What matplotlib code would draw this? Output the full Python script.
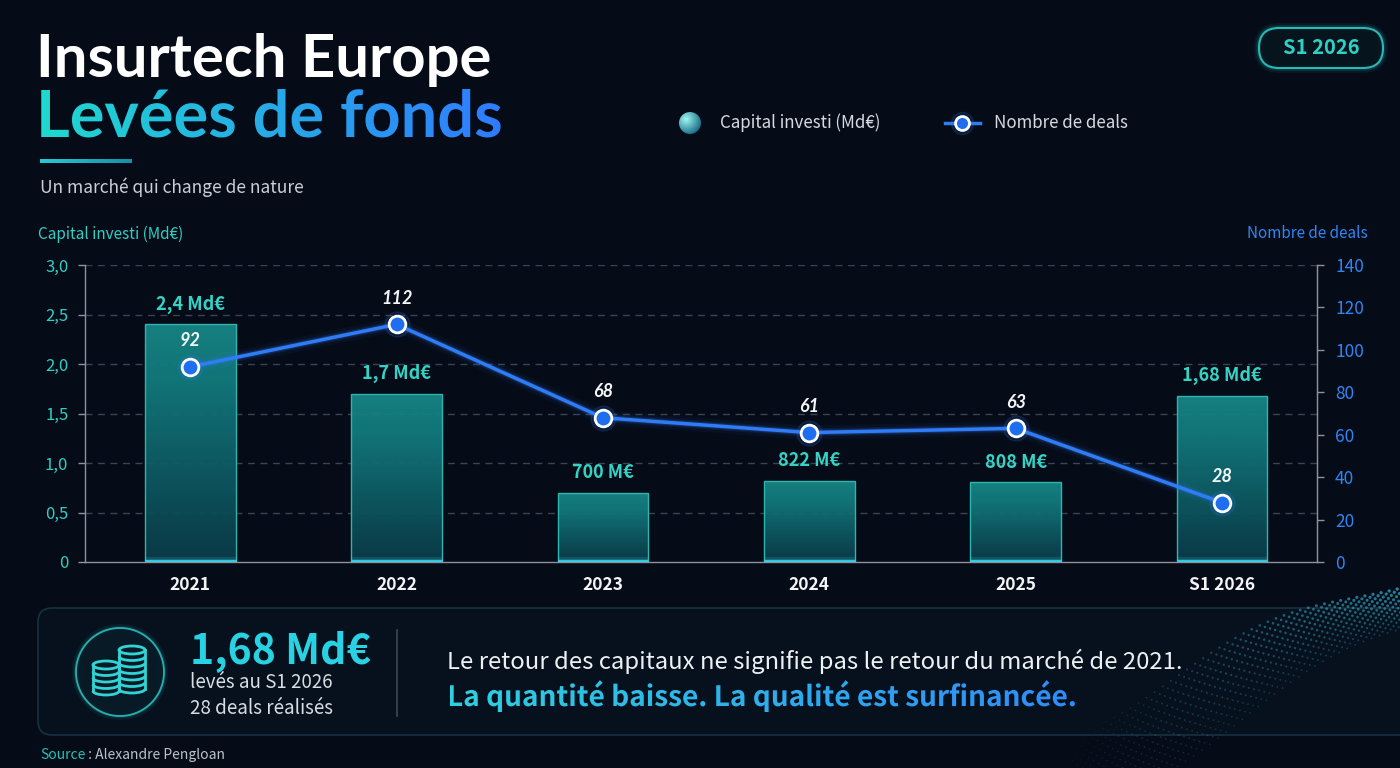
import numpy as np
import matplotlib
matplotlib.use('Agg')
import matplotlib.pyplot as plt
from matplotlib.patches import FancyBboxPatch, Circle, Ellipse, Arc, PathPatch
from matplotlib.textpath import TextPath
from matplotlib.font_manager import FontProperties
from matplotlib.colors import to_rgb
from matplotlib.transforms import Affine2D

plt.rcParams['font.family'] = ['Noto Sans CJK SC', 'DejaVu Sans']

# données
categories = ['2021', '2022', '2023', '2024', '2025', 'S1 2026']
capital = [2.4, 1.7, 0.70, 0.822, 0.808, 1.68]
capital_labels = ['2,4 Md€', '1,7 Md€', '700 M€', '822 M€', '808 M€', '1,68 Md€']
deals = [92, 112, 68, 61, 63, 28]
left_ticks = [0, 0.5, 1.0, 1.5, 2.0, 2.5, 3.0]
left_tick_labels = ['0', '0,5', '1,0', '1,5', '2,0', '2,5', '3,0']
right_ticks = [0, 20, 40, 60, 80, 100, 120, 140]

BG = '#050c18'
TEAL = '#2fcfc4'
BLUE = '#2f86f2'
LINE = '#2f7cf6'
W, H = 1400, 768

fig = plt.figure(figsize=(14, 7.68), dpi=100, facecolor=BG)

# calque de fond en coordonnées pixels (y vers le bas)
bg = fig.add_axes([0, 0, 1, 1], zorder=0)
bg.set_xlim(0, W)
bg.set_ylim(H, 0)
bg.axis('off')


def grad_colors(c0, c1, n=256):
    a = np.array(to_rgb(c0))
    b = np.array(to_rgb(c1))
    t = np.linspace(0, 1, n)[:, None]
    return a + (b - a) * t


def gradient_text(x, y, s, size, c0, c1, family='Noto Sans CJK SC', weight='bold'):
    """texte en dégradé horizontal, (x, y) = début de la ligne de base"""
    prop = FontProperties(family=family, weight=weight)
    tp = TextPath((0, 0), s, size=size, prop=prop)
    ext = tp.get_extents()
    tr = Affine2D().scale(1, -1).translate(x, y) + bg.transData
    patch = PathPatch(tp, transform=tr, facecolor='none', edgecolor='none')
    bg.add_patch(patch)
    img = grad_colors(c0, c1)[None, :, :]
    im = bg.imshow(img, extent=[x + ext.x0, x + ext.x1, y - ext.y0, y - ext.y1],
                   aspect='auto', interpolation='bicubic', zorder=3)
    im.set_clip_path(patch)
    return ext


# titre
bg.text(36, 77, 'Insurtech Europe', color='white', fontsize=43, fontweight='bold',
        family='Lato', va='baseline', ha='left')
gradient_text(36, 137, 'Levées de fonds', 65, '#1fd9cf', '#2f7cff', family='Lato')
bar_line = grad_colors('#27c9d6', '#1a8ea8', 64)[None, :, :]
bg.imshow(bar_line, extent=[40, 132, 163, 159], aspect='auto', zorder=2)
bg.text(40, 187, 'Un marché qui change de nature', color='#c9d0d8', fontsize=12.5,
        va='center', ha='left')

# légende
yy, xx = np.mgrid[-1:1:64j, -1:1:64j]
rr = np.sqrt((xx + 0.35) ** 2 + (yy + 0.35) ** 2)
sphere = grad_colors('#9ff6f2', '#0a5f7a', 64)[np.clip((rr / 1.6 * 63).astype(int), 0, 63)]
sp = Circle((690, 123), 11, transform=bg.transData, facecolor='none', edgecolor='none')
bg.add_patch(sp)
im = bg.imshow(sphere, extent=[679, 701, 134, 112], aspect='auto', zorder=3)
im.set_clip_path(sp)
bg.text(720, 123, 'Capital investi (Md€)', color='#d5dbe2', fontsize=12.2, va='center')
bg.plot([945, 980], [123, 123], color=LINE, lw=2.5, zorder=3)
bg.plot([962], [123], 'o', ms=10, mfc='#1f6ef0', mec='white', mew=2, zorder=4)
bg.plot([962], [123], 'o', ms=16, color=LINE, alpha=0.15, zorder=3)
bg.text(994, 123, 'Nombre de deals', color='#d5dbe2', fontsize=12.2, va='center')

# pastille S1 2026
for lw, a in [(7, 0.08), (4, 0.15), (1.5, 0.9)]:
    bg.add_patch(FancyBboxPatch((1259, 28), 124, 40,
                                boxstyle='round,pad=0,rounding_size=20',
                                facecolor='#07151f' if lw == 1.5 else 'none',
                                edgecolor='#2cc9c6', lw=lw, alpha=a, zorder=2))
bg.text(1321, 48, 'S1 2026', color=TEAL, fontsize=14.5, fontweight='bold',
        ha='center', va='center', zorder=3)

# titres des axes
bg.text(38, 234, 'Capital investi (Md€)', color=TEAL, fontsize=11, va='center', ha='left')
bg.text(1368, 234, 'Nombre de deals', color=BLUE, fontsize=11, va='center', ha='right')

# décor pointillé en bas à droite
uu, vv = np.meshgrid(np.linspace(0, 1, 48), np.linspace(0, 1, 18))
dx = 1040 + 380 * uu + 50 * vv
dy = 800 - 170 * uu ** 1.2 - 90 * vv + 20 * np.sin(uu * 6 + vv * 2)
ds = 0.5 + 5 * uu * (0.3 + vv)
da = np.clip(0.1 + 0.55 * uu * vv + 0.2 * uu, 0, 0.7)
cols = np.zeros((dx.size, 4))
cols[:, :3] = to_rgb('#35b8d6')
cols[:, 3] = da.ravel()
bg.scatter(dx.ravel(), dy.ravel(), s=ds.ravel(), c=cols, lw=0, zorder=1.8)

# panneau du bas
bg.add_patch(FancyBboxPatch((38, 608), 1400, 127, boxstyle='round,pad=0,rounding_size=14',
                            facecolor='#07121e', edgecolor='#1c3646', lw=1.2, alpha=0.85,
                            zorder=1.5))
for r, lw, a in [(44, 6, 0.08), (44, 3, 0.15), (44, 1.3, 0.9)]:
    bg.add_patch(Circle((120, 672), r, facecolor='#091c27' if lw == 1.3 else 'none',
                        edgecolor='#2bbfc0', lw=lw, alpha=a, zorder=2))


def coin_stack(cx, ytop, n, w=26, h=8, step=6.5):
    c = '#30d4d6'
    bg.add_patch(Ellipse((cx, ytop), w, h, facecolor='none', edgecolor=c, lw=2, zorder=3))
    for i in range(1, n + 1):
        bg.add_patch(Arc((cx, ytop + i * step), w, h, theta1=0, theta2=180,
                         edgecolor=c, lw=2, zorder=3))
    bg.plot([cx - w / 2, cx - w / 2], [ytop, ytop + n * step], color=c, lw=2, zorder=3)
    bg.plot([cx + w / 2, cx + w / 2], [ytop, ytop + n * step], color=c, lw=2, zorder=3)


coin_stack(106, 665, 4)
coin_stack(132, 650, 6)

bg.text(190, 664, '1,68 Md€', color='#28d2e2', fontsize=29.5, fontweight='bold',
        va='baseline', ha='left', zorder=3)
bg.text(190, 683, 'levés au S1 2026', color='#d9dee4', fontsize=13.5, va='center', zorder=3)
bg.text(190, 709, '28 deals réalisés', color='#d9dee4', fontsize=13.5, va='center', zorder=3)
bg.plot([397, 397], [630, 716], color='#3a4856', lw=1.2, zorder=3)
bg.text(447, 661, 'Le retour des capitaux ne signifie pas le retour du marché de 2021.',
        color='#eef1f4', fontsize=17.2, va='center', ha='left', zorder=3)
gradient_text(447, 706, 'La quantité baisse. La qualité est surfinancée.', 28,
              '#2fd0e0', '#2f8cf8')

src = bg.text(40, 755, 'Source', color='#2bbfb5', fontsize=10, va='center', ha='left')
bg.annotate(' : Alexandre Pengloan', xy=(1, 0.5), xycoords=src, color='#b9c1c9',
            fontsize=10, va='center', ha='left')

bg.set_xlim(0, W)
bg.set_ylim(H, 0)

# graphique
ax = fig.add_axes([85 / W, 1 - 562 / H, (1317 - 85) / W, (562 - 265) / H], zorder=2)
ax.patch.set_alpha(0)
x = np.arange(len(categories))
bw = 0.44
bars = ax.bar(x, capital, width=bw, color='none', edgecolor='#2fb5b0', lw=1, zorder=3)
vgrad = np.vstack([grad_colors('#0a3b48', '#127a7d', 128),
                   grad_colors('#127a7d', '#178786', 40)])[:, None, :]
for b in bars:
    x0, h = b.get_x(), b.get_height()
    im = ax.imshow(vgrad, extent=[x0, x0 + bw, 0, h], origin='lower', aspect='auto',
                   zorder=2, alpha=0.95)
    im.set_clip_path(b)
    for lw, a in [(6, 0.15), (2.5, 0.8)]:
        ax.plot([x0, x0 + bw], [0.006, 0.006], color='#3fe3ff', lw=lw, alpha=a,
                zorder=4, solid_capstyle='butt')

for xi, v, lab in zip(x, capital, capital_labels):
    ax.annotate(lab, (xi, v), xytext=(0, 20), textcoords='offset pixels',
                ha='center', va='center', color='#35d3c6', fontsize=13,
                fontweight='bold', zorder=6)

ax.set_xlim(-0.51, 5.46)
ax.set_ylim(0, 3.0)
ax.set_yticks(left_ticks)
ax.set_yticklabels(left_tick_labels)
ax.set_xticks(x)
ax.set_xticklabels(categories)
ax.tick_params(axis='y', colors='#8a939e', labelcolor=TEAL, labelsize=12, length=5,
               width=1, pad=7)
ax.tick_params(axis='x', length=0, labelcolor='#f2f4f6', labelsize=12.5, pad=10)
for lab in ax.get_xticklabels():
    lab.set_fontweight('bold')
for yv in left_ticks[1:]:
    ax.axhline(yv, color='#3a4452', lw=1, ls=(0, (5, 4)), zorder=1)
ax.spines['top'].set_visible(False)
for s in ['left', 'bottom', 'right']:
    ax.spines[s].set_color('#8a939e')
    ax.spines[s].set_linewidth(1)

ax2 = ax.twinx()
ax2.set_ylim(0, 140)
ax2.set_yticks(right_ticks)
ax2.tick_params(axis='y', colors='#8a939e', labelcolor=BLUE, labelsize=12.5, length=5,
                width=1, pad=8)
for s in ['top', 'left', 'bottom']:
    ax2.spines[s].set_visible(False)
ax2.spines['right'].set_color('#8a939e')

for lw, a in [(10, 0.05), (6, 0.1), (4, 0.2)]:
    ax2.plot(x, deals, color=LINE, lw=lw, alpha=a, solid_capstyle='round', zorder=4)
ax2.plot(x, deals, color=LINE, lw=2.5, zorder=5)
ax2.plot(x, deals, 'o', ms=18, color=LINE, alpha=0.15, zorder=5)
ax2.plot(x, deals, 'o', ms=12, mfc='#1f6ef0', mec='white', mew=2, zorder=6)
for xi, v in zip(x, deals):
    ax2.annotate(str(v), (xi, v), xytext=(0, 26), textcoords='offset pixels',
                 ha='center', va='center', color='#f4f6f8', fontsize=13,
                 fontweight='bold', fontstyle='italic', family=['Lato', 'DejaVu Sans'],
                 zorder=7)

fig.savefig('out.png', dpi=100, facecolor=BG)
